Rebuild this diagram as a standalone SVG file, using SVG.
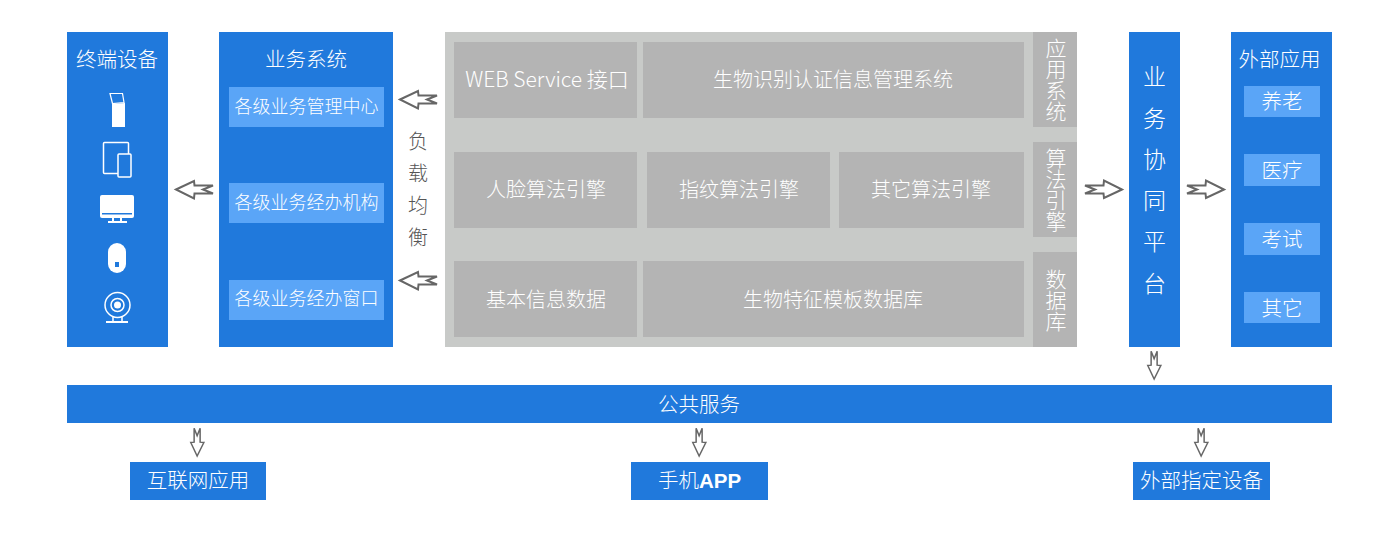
<svg xmlns="http://www.w3.org/2000/svg" width="1400" height="533" viewBox="0 0 1400 533">
<style>
text{font-family:"Noto Sans CJK SC","Noto Sans",sans-serif;font-weight:300;fill:#fff;text-anchor:middle}
.b{fill:#2079DC}.l{fill:#5AA5F7}.p{fill:#C8CAC8}.c{fill:#B4B4B4}
.t20{font-size:20.500px}.g20{font-size:20px}.t18{font-size:18px}.t21{font-size:21px}.t23{font-size:23px}
.v{font-size:21px;writing-mode:vertical-rl;text-orientation:upright}
.ar{fill:#fff;stroke:#666;stroke-width:2;stroke-linejoin:miter}
.ic{fill:none;stroke:#fff;stroke-width:1.500}
.if{fill:#fff}
.dk{fill:#555;font-size:20px}
</style>
<defs>
<path id="arrow" class="ar" d="M0 9.500L18 1L18.500 5.500L37 5.500L27 9.500L37 13.500L18.500 13.500L18 18.500Z"/>
</defs>
<rect width="1400" height="533" fill="#fff"/>
<g id="terminal">
<rect class="b" x="67" y="32" width="101" height="315"/>
<text class="t20" x="117" y="67">终端设备</text>
<path class="if" d="M112 104L125 103L125 127L112 127Z"/>
<path d="M110 93.500L122.500 93.500L124 102.500L112.500 103.500Z" fill="#2079DC" stroke="#fff" stroke-width="1.200"/>
<rect class="ic" x="103.500" y="142.500" width="25" height="31" rx="1"/>
<rect x="118" y="154" width="13" height="23" rx="1" fill="#2079DC" stroke="#fff" stroke-width="1.500"/>
<path class="if" d="M100 197a2 2 0 0 1 2-2H132a2 2 0 0 1 2 2V216a2 2 0 0 1-2 2H102a2 2 0 0 1-2-2Z"/>
<rect x="102" y="213" width="30" height="1.500" fill="#2079DC"/>
<path class="if" d="M112 218h2v3h6v-3h2v3h5v2H108v-2h4Z"/>
<rect class="if" x="108" y="243" width="18" height="30" rx="9"/>
<rect x="115" y="262" width="4" height="5" fill="#2079DC"/>
<circle class="ic" cx="117.500" cy="305" r="12.500" stroke-width="2"/>
<circle class="ic" cx="117.500" cy="305" r="6.500"/>
<circle class="if" cx="117.500" cy="305" r="3.500"/>
<path class="ic" d="M113 317V322M122 317V322"/><rect class="if" x="106" y="321" width="22" height="2"/>
</g>
<g id="business">
<rect class="b" x="219" y="32" width="174" height="315"/>
<text class="t20" x="306" y="67">业务系统</text>
<rect class="l" x="229" y="87" width="155" height="40"/>
<text class="t18" x="306.500" y="113">各级业务管理中心</text>
<rect class="l" x="229" y="183" width="155" height="40"/>
<text class="t18" x="306.500" y="209">各级业务经办机构</text>
<rect class="l" x="229" y="280" width="155" height="40"/>
<text class="t18" x="306.500" y="305">各级业务经办窗口</text>
</g>
<g id="load-balance">
<text class="dk" x="418" y="149">负</text>
<text class="dk" x="418" y="181">载</text>
<text class="dk" x="418" y="213">均</text>
<text class="dk" x="418" y="245">衡</text>
</g>
<g id="platform">
<rect class="p" x="445" y="32" width="632" height="315"/>
</g>
<g id="app-system">
<rect class="c" x="454" y="42" width="183" height="76"/>
<text class="t21" x="547" y="87">WEB Service 接口</text>
<rect class="c" x="643" y="42" width="381" height="76"/>
<text class="g20" x="833" y="87">生物识别认证信息管理系统</text>
<rect class="c" x="1033" y="32" width="44" height="95"/>
<text class="v" x="1056" y="80">应用系统</text>
</g>
<g id="algorithms">
<rect class="c" x="454" y="152" width="183" height="76"/>
<text class="g20" x="546" y="197">人脸算法引擎</text>
<rect class="c" x="647" y="152" width="183" height="76"/>
<text class="g20" x="739" y="197">指纹算法引擎</text>
<rect class="c" x="839" y="152" width="185" height="76"/>
<text class="g20" x="931" y="197">其它算法引擎</text>
<rect class="c" x="1033" y="142" width="44" height="95"/>
<text class="v" x="1056" y="190">算法引擎</text>
</g>
<g id="data">
<rect class="c" x="454" y="261" width="183" height="76"/>
<text class="g20" x="546" y="307">基本信息数据</text>
<rect class="c" x="643" y="261" width="381" height="76"/>
<text class="g20" x="833" y="307">生物特征模板数据库</text>
<rect class="c" x="1033" y="252" width="44" height="95"/>
<text class="v" x="1056" y="300">数据库</text>
</g>
<g id="collab">
<rect class="b" x="1129" y="32" width="51" height="315"/>
<text class="t23" x="1154.500" y="85">业</text><text class="t23" x="1154.500" y="127">务</text><text class="t23" x="1154.500" y="168">协</text><text class="t23" x="1154.500" y="209">同</text><text class="t23" x="1154.500" y="250">平</text><text class="t23" x="1154.500" y="292">台</text>
</g>
<g id="external">
<rect class="b" x="1231" y="32" width="101" height="315"/>
<text class="t20" x="1279.500" y="67">外部应用</text>
<rect class="l" x="1244" y="86" width="76" height="31"/>
<text class="t20" x="1282" y="109">养老</text>
<rect class="l" x="1244" y="154" width="76" height="32"/>
<text class="t20" x="1282" y="178">医疗</text>
<rect class="l" x="1244" y="223" width="76" height="32"/>
<text class="t20" x="1282" y="247">考试</text>
<rect class="l" x="1244" y="292" width="76" height="31"/>
<text class="t20" x="1282" y="316">其它</text>
</g>
<g id="public">
<rect class="b" x="67" y="385" width="1265" height="38"/>
<text class="t20" x="699" y="412">公共服务</text>
</g>
<g id="internet">
<rect class="b" x="130" y="462" width="136" height="38"/>
<text class="t20" x="198" y="488">互联网应用</text>
</g>
<g id="mobile">
<rect class="b" x="631" y="462" width="137" height="38"/>
<text class="t20" x="699.500" y="488">手机<tspan font-weight="700" font-family="Liberation Sans">APP</tspan></text>
</g>
<g id="device">
<rect class="b" x="1133" y="462" width="137" height="38"/>
<text class="t20" x="1201.500" y="488">外部指定设备</text>
</g>
<g id="connectors">
<use href="#arrow" transform="translate(176 180)"/>
<use href="#arrow" transform="translate(400 90)"/>
<use href="#arrow" transform="translate(400 271)"/>
<use href="#arrow" transform="translate(1122 199) rotate(180)"/>
<use href="#arrow" transform="translate(1224 199) rotate(180)"/>
<use href="#arrow" transform="translate(1147 379) rotate(-90) scale(.75)"/>
<use href="#arrow" transform="translate(1194 456) rotate(-90) scale(.75)"/>
<use href="#arrow" transform="translate(692 456) rotate(-90) scale(.75)"/>
<use href="#arrow" transform="translate(190 456) rotate(-90) scale(.75)"/>
</g>
</svg>
